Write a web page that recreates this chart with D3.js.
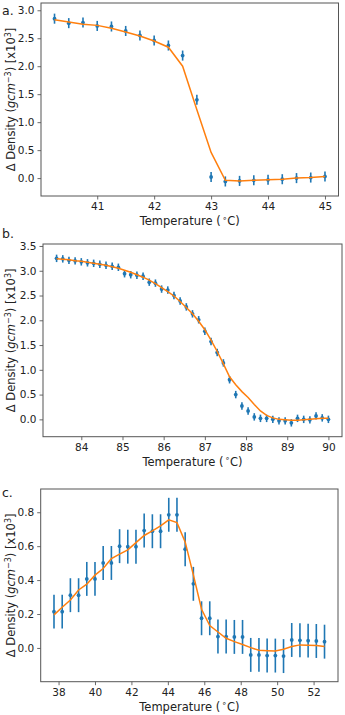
<!DOCTYPE html>
<html>
<head>
<meta charset="utf-8">
<script src="https://cdn.jsdelivr.net/npm/d3@7"></script>
<style>
  html, body { margin: 0; padding: 0; background: #fff; }
  svg { display: block; }
  text { font-family: "DejaVu Sans", sans-serif; fill: #222; }
</style>
</head>
<body>
<svg id="chart" width="345" height="715"></svg>
<script>
// ---- Panel a data ----
const aTemp = [40.25, 40.5, 40.75, 41.0, 41.25, 41.5, 41.75, 42.0, 42.25, 42.5, 42.75, 43.0, 43.25, 43.5, 43.75, 44.0, 44.25, 44.5, 44.75, 45.0];
const aDensity = [2.85, 2.77, 2.78, 2.72, 2.71, 2.63, 2.55, 2.46, 2.37, 2.19, 1.40, 0.02, -0.06, -0.05, -0.04, -0.03, -0.02, 0.0, 0.01, 0.03];
const aError = [0.09, 0.09, 0.09, 0.09, 0.09, 0.09, 0.09, 0.09, 0.09, 0.09, 0.09, 0.09, 0.09, 0.09, 0.09, 0.09, 0.09, 0.09, 0.09, 0.09];
const aFit = [2.83, 2.79, 2.75, 2.73, 2.68, 2.61, 2.54, 2.45, 2.34, 2.0, 1.22, 0.46, -0.04, -0.05, -0.04, -0.03, -0.02, 0.0, 0.01, 0.03];
const aXTicks = [41, 42, 43, 44, 45];
const aYTicks = [0.0, 0.5, 1.0, 1.5, 2.0, 2.5, 3.0];

// ---- Panel b data ----
const bTemp = [83.40, 83.55, 83.70, 83.85, 84.00, 84.15, 84.30, 84.45, 84.60, 84.75, 84.90, 85.05, 85.20, 85.35, 85.50, 85.65, 85.80, 85.95, 86.10, 86.25, 86.40, 86.55, 86.70, 86.85, 87.00, 87.15, 87.30, 87.45, 87.60, 87.75, 87.90, 88.05, 88.20, 88.35, 88.50, 88.65, 88.80, 88.95, 89.10, 89.25, 89.40, 89.55, 89.70, 89.85, 90.00];
const bDensity = [3.25, 3.24, 3.21, 3.20, 3.18, 3.16, 3.15, 3.13, 3.11, 3.09, 3.07, 2.94, 2.92, 2.91, 2.89, 2.77, 2.75, 2.63, 2.61, 2.50, 2.39, 2.27, 2.13, 2.01, 1.78, 1.57, 1.35, 1.14, 0.80, 0.50, 0.27, 0.17, 0.05, 0.02, 0.02, 0.0, -0.03, -0.03, -0.07, 0.02, 0.0, -0.01, 0.07, 0.03, 0.0];
const bError = bTemp.map(() => 0.075);
const bFit = [3.24, 3.23, 3.22, 3.20, 3.19, 3.17, 3.15, 3.13, 3.11, 3.08, 3.05, 3.01, 2.97, 2.92, 2.87, 2.81, 2.74, 2.66, 2.58, 2.49, 2.38, 2.26, 2.13, 1.98, 1.81, 1.60, 1.37, 1.12, 0.86, 0.70, 0.56, 0.44, 0.30, 0.17, 0.08, 0.03, 0.00, -0.01, -0.02, -0.02, -0.01, 0.0, 0.01, 0.02, 0.02];
const bXTicks = [84, 85, 86, 87, 88, 89, 90];
const bYTicks = [0.0, 0.5, 1.0, 1.5, 2.0, 2.5, 3.0, 3.5];

// ---- Panel c data ----
const cTemp = [37.75, 38.2, 38.65, 39.1, 39.55, 40.0, 40.45, 40.9, 41.35, 41.8, 42.25, 42.7, 43.15, 43.6, 44.05, 44.5, 44.95, 45.4, 45.85, 46.3, 46.75, 47.2, 47.65, 48.1, 48.55, 49.0, 49.45, 49.9, 50.35, 50.8, 51.25, 51.7, 52.15, 52.6];
const cDensity = [0.214, 0.214, 0.311, 0.311, 0.407, 0.407, 0.501, 0.501, 0.60, 0.597, 0.597, 0.692, 0.688, 0.688, 0.785, 0.785, 0.582, 0.378, 0.175, 0.175, 0.067, 0.067, 0.065, 0.065, -0.041, -0.041, -0.045, -0.045, -0.048, 0.047, 0.045, 0.043, 0.041, 0.037];
const cError = cTemp.map(() => 0.1);
const cFit = [0.195, 0.24, 0.283, 0.342, 0.376, 0.429, 0.468, 0.527, 0.553, 0.578, 0.621, 0.663, 0.69, 0.72, 0.755, 0.739, 0.625, 0.431, 0.228, 0.132, 0.094, 0.057, 0.037, 0.02, 0.002, -0.014, -0.016, -0.018, -0.008, 0.008, 0.018, 0.016, 0.014, 0.008];
const cXTicks = [38, 40, 42, 44, 46, 48, 50, 52];
const cYTicks = [0.0, 0.2, 0.4, 0.6, 0.8];

const BLUE = "#1f77b4", ORANGE = "#ff7f0e";

const panels = [
  { label: "a.", temp: aTemp, dens: aDensity, err: aError, fit: aFit, xTicks: aXTicks, yTicks: aYTicks,
    xDom: [40.0125, 45.2375], yDom: [-0.32, 3.13], left: 41, right: 338.5, top: 3, bottom: 196, labelY: 10 },
  { label: "b.", temp: bTemp, dens: bDensity, err: bError, fit: bFit, xTicks: bXTicks, yTicks: bYTicks,
    xDom: [83.07, 90.33], yDom: [-0.35, 3.54], left: 43, right: 342, top: 244, bottom: 436.7, labelY: 233 },
  { label: "c.", temp: cTemp, dens: cDensity, err: cError, fit: cFit, xTicks: cXTicks, yTicks: cYTicks,
    xDom: [37.02, 53.34], yDom: [-0.199, 0.937], left: 40.7, right: 338, top: 489, bottom: 681.7, labelY: 492 }
];

const svg = d3.select("#chart");

panels.forEach(p => {
  const x = d3.scaleLinear().domain(p.xDom).range([p.left, p.right]);
  const y = d3.scaleLinear().domain(p.yDom).range([p.bottom, p.top]);
  const g = svg.append("g");

  // axes
  const xAxis = d3.axisBottom(x).tickValues(p.xTicks).tickFormat(d3.format("d")).tickSize(3.5).tickPadding(3);
  const yAxis = d3.axisLeft(y).tickValues(p.yTicks).tickFormat(d3.format(".1f")).tickSize(3.5).tickPadding(3);
  const gx = g.append("g").attr("transform", `translate(0,${p.bottom})`).call(xAxis);
  const gy = g.append("g").attr("transform", `translate(${p.left},0)`).call(yAxis);
  [gx, gy].forEach(a => {
    a.select(".domain").remove();
    a.selectAll(".tick line").attr("stroke", "#444").attr("stroke-width", 0.8);
    a.selectAll(".tick text").style("font-family", "DejaVu Sans").style("font-size", "10.5px").attr("fill", "#222");
  });

  // frame
  g.append("rect").attr("x", p.left).attr("y", p.top)
    .attr("width", p.right - p.left).attr("height", p.bottom - p.top)
    .attr("fill", "none").attr("stroke", "#555").attr("stroke-width", 1);

  const idx = d3.range(p.temp.length);

  // error bars
  g.append("g").selectAll("line").data(idx).join("line")
    .attr("x1", i => x(p.temp[i])).attr("x2", i => x(p.temp[i]))
    .attr("y1", i => y(p.dens[i] - p.err[i])).attr("y2", i => y(p.dens[i] + p.err[i]))
    .attr("stroke", BLUE).attr("stroke-width", 1.6);

  // points
  g.append("g").selectAll("circle").data(idx).join("circle")
    .attr("cx", i => x(p.temp[i])).attr("cy", i => y(p.dens[i])).attr("r", 1.9)
    .attr("fill", BLUE);

  // fit line
  const line = d3.line().x(i => x(p.temp[i])).y(i => y(p.fit[i]));
  g.append("path").datum(idx).attr("d", line)
    .attr("fill", "none").attr("stroke", ORANGE).attr("stroke-width", 1.5);

  // panel label
  g.append("text").attr("x", 2).attr("y", p.labelY + 5).style("font-size", "12.5px").text(p.label);

  // x label (centred on the axes box)
  const xl = g.append("text").attr("x", (p.left + p.right) / 2)
    .attr("y", p.bottom + 29).attr("text-anchor", "middle").style("font-size", "11.5px");
  xl.append("tspan").text("Temperature (");
  xl.append("tspan").attr("dy", -4.5).style("font-size", "8px").text("\u2009\u2218");
  xl.append("tspan").attr("dy", 4.5).text("C)");

  // y label
  const cy = (p.top + p.bottom) / 2;
  const yl = g.append("text").attr("transform", `translate(15,${cy}) rotate(-90)`)
    .attr("text-anchor", "middle").style("font-size", "11.5px");
  yl.append("tspan").text("\u0394 Density (");
  yl.append("tspan").style("font-style", "italic").text("gcm");
  yl.append("tspan").attr("dy", -4.5).style("font-size", "8px").text("\u22123");
  yl.append("tspan").attr("dy", 4.5).text(") [x10");
  yl.append("tspan").attr("dy", -4.5).style("font-size", "8px").text("3");
  yl.append("tspan").attr("dy", 4.5).text("]");
});
</script>
</body>
</html>
